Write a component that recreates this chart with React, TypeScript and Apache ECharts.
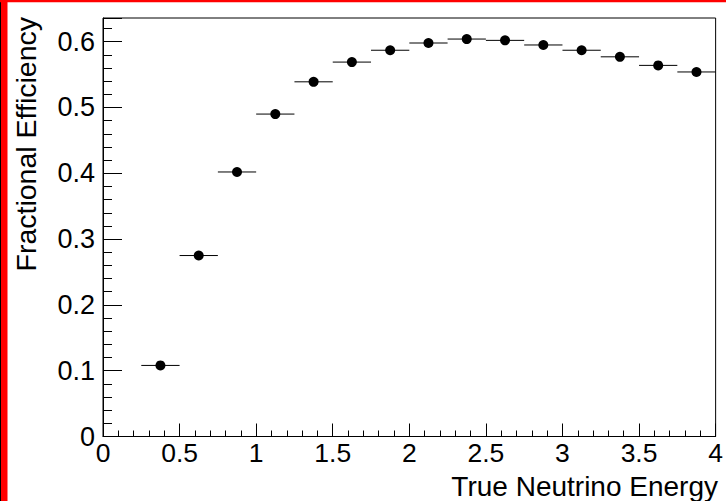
import React, { useEffect, useRef } from "react";
import * as echarts from "echarts";

const energyCenters = [0.375, 0.625, 0.875, 1.125, 1.375, 1.625, 1.875, 2.125, 2.375, 2.625, 2.875, 3.125, 3.375, 3.625, 3.875];
const efficiency = [0.108, 0.275, 0.402, 0.49, 0.539, 0.569, 0.587, 0.598, 0.604, 0.602, 0.595, 0.587, 0.577, 0.564, 0.554];
const binWidth = 0.25;
const xTitle = "True Neutrino Energy";
const yTitle = "Fractional Efficiency";

const FONT = "'Liberation Sans', Arial, Helvetica, sans-serif";

export default function App() {
  const ref = useRef<HTMLDivElement>(null);
  useEffect(() => {
    if (!ref.current) return;
    const chart = echarts.init(ref.current, undefined, { renderer: "svg" });
    const pts = energyCenters.map((x, i) => [x, efficiency[i]]);
    chart.setOption({
      animation: false,
      backgroundColor: "#fff",
      grid: { left: 103, right: 7, top: 18, bottom: 64.5, show: true, borderColor: "#000", borderWidth: 1, backgroundColor: "transparent" },
      xAxis: {
        type: "value",
        min: 0,
        max: 4,
        interval: 0.5,
        axisLine: { show: true, lineStyle: { color: "#000", width: 1 } },
        axisTick: { show: true, inside: true, length: 13, lineStyle: { color: "#000" } },
        minorTick: { show: true, splitNumber: 5, length: 6, lineStyle: { color: "#000" } },
        splitLine: { show: false },
        axisLabel: { color: "#000", fontSize: 26.5, lineHeight: 23, fontFamily: FONT, margin: 5 },
      },
      yAxis: {
        type: "value",
        min: 0,
        max: 0.636,
        interval: 0.1,
        axisLine: { show: true, lineStyle: { color: "#000", width: 1 } },
        axisTick: { show: true, inside: true, length: 19, lineStyle: { color: "#000" } },
        minorTick: { show: true, splitNumber: 5, length: 9, lineStyle: { color: "#000" } },
        splitLine: { show: false },
        axisLabel: {
          color: "#000",
          fontSize: 27,
          lineHeight: 23,
          fontFamily: FONT,
          margin: 8,
          formatter: (v: number) => (Math.abs(v * 10 - Math.round(v * 10)) < 1e-6 ? String(Math.round(v * 10) / 10) : ""),
        },
      },
      graphic: [
        { type: "rect", shape: { x: 0, y: 0, width: 1, height: 501 }, style: { fill: "#000" }, silent: true },
        { type: "rect", shape: { x: 1, y: 0, width: 6.5, height: 501 }, style: { fill: "#ff0000" }, silent: true },
        { type: "rect", shape: { x: 0, y: 0, width: 726, height: 2.2 }, style: { fill: "#ff0000" }, silent: true },
        {
          type: "text",
          x: 718,
          y: 486,
          style: { text: xTitle, fontSize: 28, lineHeight: 23, fontFamily: FONT, fill: "#000", textAlign: "right", textVerticalAlign: "middle" },
        },
        {
          type: "text",
          x: 26,
          y: 17,
          rotation: Math.PI / 2,
          style: { text: yTitle, fontSize: 28.5, lineHeight: 23, fontFamily: FONT, fill: "#000", textAlign: "right", textVerticalAlign: "middle" },
        },
      ],
      series: [
        {
          type: "custom",
          data: pts,
          encode: { x: 0, y: 1 },
          renderItem: (params: any, api: any) => {
            const c = api.value(0);
            const y = api.value(1);
            const p1 = api.coord([c - binWidth / 2, y]);
            const p2 = api.coord([c + binWidth / 2, y]);
            return {
              type: "line",
              shape: { x1: p1[0], y1: p1[1], x2: p2[0], y2: p2[1] },
              style: { stroke: "#000", lineWidth: 1 },
            };
          },
          z: 2,
        },
        {
          type: "scatter",
          data: pts,
          symbol: "circle",
          symbolSize: 10,
          itemStyle: { color: "#000", opacity: 1 },
          z: 3,
        },
      ],
    });
    return () => chart.dispose();
  }, []);
  return <div ref={ref} style={{ position: "fixed", left: 0, top: 0, width: 726, height: 501 }} />;
}
